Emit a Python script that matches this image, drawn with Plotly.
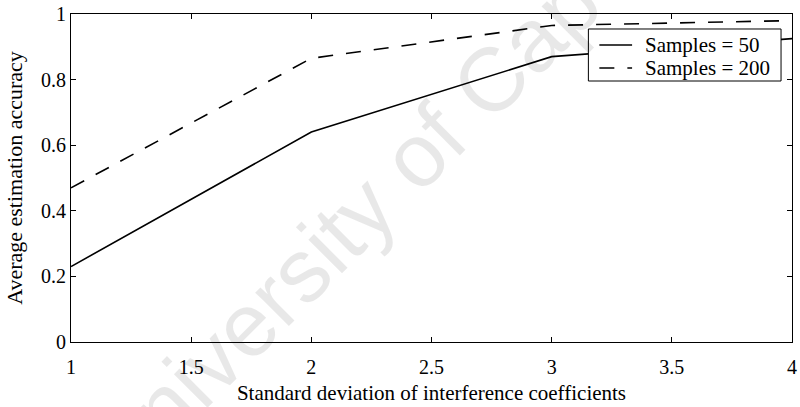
import plotly.graph_objects as go

# Standard deviation of interference coefficients
sigma = [1, 2, 3, 4]
# Average estimation accuracy for two sample sizes
acc_50 = [0.23, 0.64, 0.87, 0.925]
acc_200 = [0.47, 0.865, 0.965, 0.98]
series_names = ["Samples = 50", "Samples = 200"]
series_dash = ["solid", "15px,13px"]

x_ticks = [1, 1.5, 2, 2.5, 3, 3.5, 4]
x_tick_text = ["1", "1.5", "2", "2.5", "3", "3.5", "4"]
y_ticks = [0, 0.2, 0.4, 0.6, 0.8, 1]
y_tick_text = ["0", "0.2", "0.4", "0.6", "0.8", "1"]

SERIF = "Times New Roman, Liberation Serif, serif"

fig = go.Figure()
for ys, name, dash in zip([acc_50, acc_200], series_names, series_dash):
    fig.add_trace(go.Scatter(
        x=sigma, y=ys, mode="lines", name=name, showlegend=False,
        line=dict(color="black", width=1.6, dash=dash),
    ))

axis_common = dict(
    showline=True, linecolor="black", linewidth=1.2, mirror="ticks",
    ticks="inside", ticklen=5, tickcolor="black", tickwidth=1,
    showgrid=False, zeroline=False, ticklabeloverflow="allow",
    tickfont=dict(family=SERIF, size=20, color="black"),
)

fig.update_xaxes(
    range=[1, 4], tickvals=x_ticks, ticktext=x_tick_text,
    ticklabelstandoff=7,
    title=dict(text="Standard deviation of interference coefficients",
               font=dict(family=SERIF, size=21, color="black"), standoff=8),
    **axis_common,
)
fig.update_yaxes(
    range=[0, 1], tickvals=y_ticks, ticktext=y_tick_text,
    title=dict(text="Average estimation accuracy",
               font=dict(family=SERIF, size=22, color="black"), standoff=12),
    **axis_common,
)

# Faint repository watermark running diagonally behind the data
fig.add_annotation(
    text="University of Cape Town", xref="paper", yref="paper",
    x=0.515, y=0.65, showarrow=False, textangle=-45,
    font=dict(family="Liberation Sans, Arial, sans-serif", size=90,
              color="rgba(0,0,0,0.09)"),
)

# Boxed legend in the upper-right corner of the axes
fig.add_shape(type="rect", xref="paper", yref="paper",
              x0=0.7176, x1=0.9848, y0=0.7957, y1=0.9543,
              line=dict(color="black", width=1), fillcolor="white",
              layer="above")
legend_rows_y = [0.9055, 0.8354]
for name, dash, ly in zip(series_names, series_dash, legend_rows_y):
    fig.add_shape(type="line", xref="paper", yref="paper",
                  x0=0.7328, x1=0.7782, y0=ly, y1=ly,
                  line=dict(color="black", width=1.6, dash=dash),
                  layer="above")
    fig.add_annotation(text=name, xref="paper", yref="paper",
                       x=0.7934, y=ly, xanchor="left", yanchor="middle",
                       showarrow=False,
                       font=dict(family=SERIF, size=21, color="black"))

fig.update_layout(
    width=800, height=407,
    margin=dict(l=71, r=3, t=14, b=65),
    paper_bgcolor="white", plot_bgcolor="white",
    showlegend=False,
)

fig.write_html("out.html")
